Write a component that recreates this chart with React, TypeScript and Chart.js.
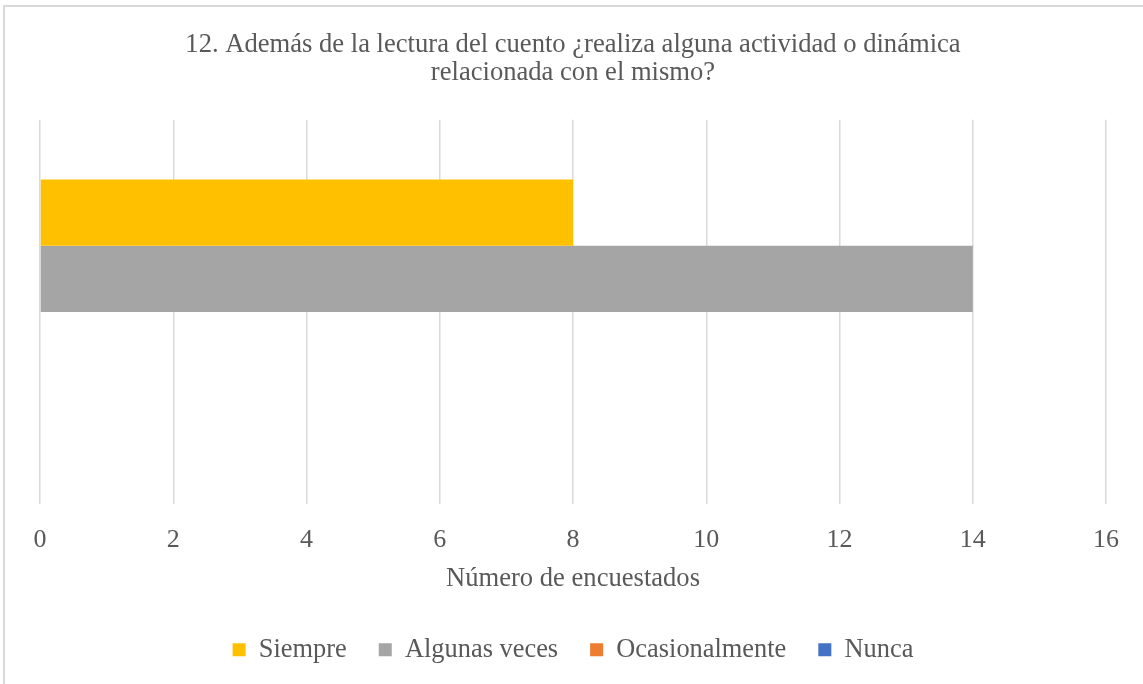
import React, { useEffect, useRef } from "react";
import { Chart, registerables } from "chart.js";

Chart.register(...registerables);

const categories = [""];
const seriesNames = ["Siempre", "Algunas veces", "Ocasionalmente", "Nunca"];
const siempre = [8];
const algunasVeces = [14];
const ocasionalmente = [0];
const nunca = [0];
const seriesColors = ["#FFC000", "#A5A5A5", "#ED7D31", "#4472C4"];
const titleLines = [
  "12. Además de la lectura del cuento ¿realiza alguna actividad o dinámica",
  "relacionada con el mismo?",
];
const axisTitle = "Número de encuestados";
const xMin = 0;
const xMax = 16;
const xStep = 2;

const FONT = "'Liberation Serif', 'Times New Roman', serif";

export default function App() {
  const ref = useRef<HTMLCanvasElement | null>(null);
  useEffect(() => {
    if (!ref.current) return;
    const values = [siempre, algunasVeces, ocasionalmente, nunca];
    const chart = new Chart(ref.current, {
      type: "bar",
      data: {
        labels: categories,
        datasets: seriesNames.map((name, i) => ({
          label: name,
          data: values[i],
          backgroundColor: seriesColors[i],
          borderWidth: 0,
          barPercentage: 1,
          categoryPercentage: 0.69,
        })),
      },
      options: {
        indexAxis: "y",
        animation: false,
        responsive: false,
        layout: { padding: { left: 40, right: 37, top: 31, bottom: 11 } },
        scales: {
          x: {
            min: xMin,
            max: xMax,
            ticks: {
              stepSize: xStep,
              color: "#595959",
              font: { family: FONT, size: 26, lineHeight: 1 },
              padding: 23,
            },
            grid: { color: "#D9D9D9", lineWidth: 1.5, drawTicks: false },
            border: { display: false },
            title: {
              display: true,
              text: axisTitle,
              color: "#595959",
              font: { family: FONT, size: 26.6, lineHeight: 1 },
              padding: { top: -10, bottom: 12 },
            },
          },
          y: {
            display: false,
          },
        },
        plugins: {
          title: {
            display: true,
            text: titleLines,
            color: "#595959",
            font: { family: FONT, size: 26.6, weight: "normal", lineHeight: 1.05 },
            padding: { top: 0, bottom: 33 },
          },
          legend: {
            position: "bottom",
            labels: {
              boxWidth: 13,
              boxHeight: 13,
              padding: 32,
              color: "#595959",
              font: { family: FONT, size: 26.4 },
            },
          },
          tooltip: { enabled: false },
        },
      },
    });
    return () => chart.destroy();
  }, []);
  return (
    <div
      style={{
        position: "absolute",
        left: 0,
        top: 0,
        width: 1143,
        height: 684,
        overflow: "hidden",
        background: "#fff",
      }}
    >
      <div
        style={{
          position: "absolute",
          left: 3,
          top: 5,
          width: 1160,
          height: 700,
          border: "2px solid #D9D9D9",
          boxSizing: "border-box",
        }}
      />
      <canvas
        ref={ref}
        width={1143}
        height={684}
        style={{ position: "absolute", left: 0, top: 0, width: 1143, height: 684 }}
      />
    </div>
  );
}
